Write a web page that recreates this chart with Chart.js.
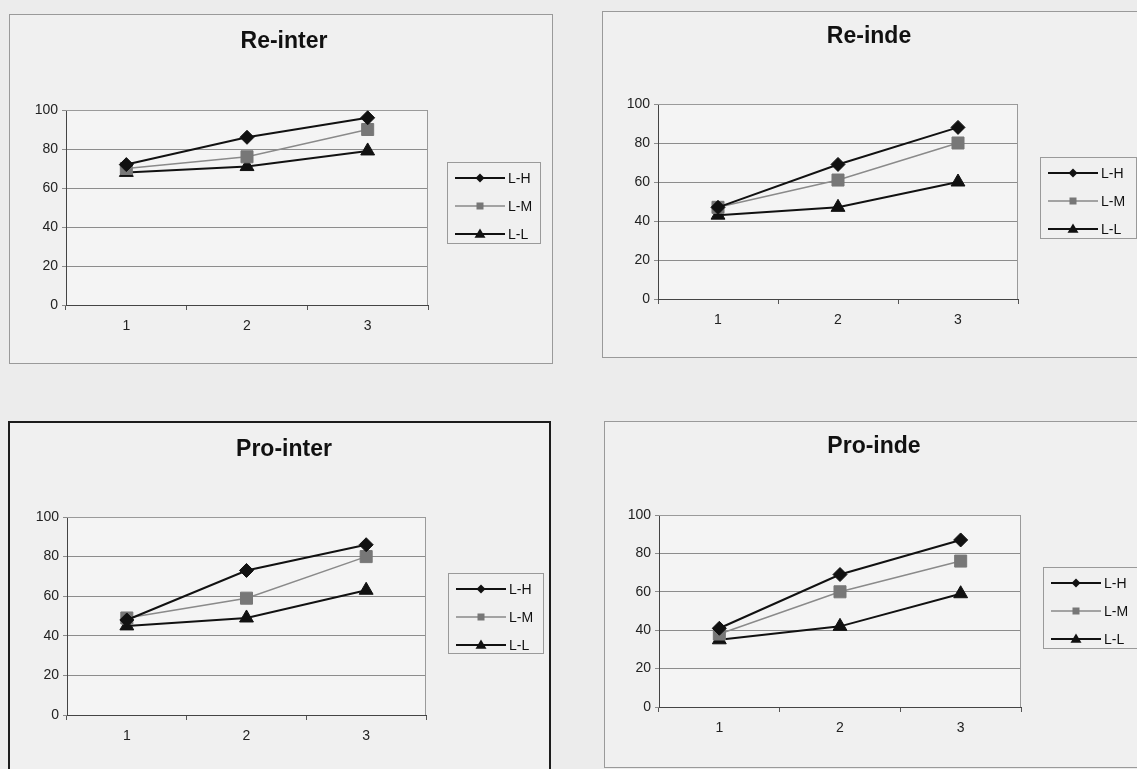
<!DOCTYPE html>
<html>
<head>
<meta charset="utf-8">
<script src="https://cdn.jsdelivr.net/npm/chart.js@4"></script>
<style>
  html, body { margin: 0; padding: 0; }
  body {
    width: 1137px; height: 769px; overflow: hidden; position: relative;
    background: #ececec; font-family: "Liberation Sans", Arial, sans-serif;
  }
  .panel { position: absolute; background: #f0f0f0; outline: 1px solid #9a9a9a; }
  .panel.dark { outline: 2px solid #1c1c1c; }
  canvas { display: block; }
</style>
</head>
<body>
<div class="panel" id="p0"><canvas id="c0"></canvas></div>
<div class="panel" id="p1"><canvas id="c1"></canvas></div>
<div class="panel dark" id="p2"><canvas id="c2"></canvas></div>
<div class="panel" id="p3"><canvas id="c3"></canvas></div>
<script>
const categories = ["1", "2", "3"];
const seriesNames = ["L-H", "L-M", "L-L"];
const yTickValues = [0, 20, 40, 60, 80, 100];
const chartTitles = ["Re-inter", "Re-inde", "Pro-inter", "Pro-inde"];

const reInterLH = [72, 86, 96];
const reInterLM = [70, 76, 90];
const reInterLL = [68, 71, 79];

const reIndeLH = [47, 69, 88];
const reIndeLM = [47, 61, 80];
const reIndeLL = [43, 47, 60];

const proInterLH = [48, 73, 86];
const proInterLM = [49, 59, 80];
const proInterLL = [45, 49, 63];

const proIndeLH = [41, 69, 87];
const proIndeLM = [38, 60, 76];
const proIndeLL = [35, 42, 59];

// line / marker look of each series
const seriesStyles = [
  { line: "#111111", fill: "#111111", width: 2, point: "rectRot", radius: 7, legendSize: 4.5 },
  { line: "#8a8a8a", fill: "#777777", width: 1.5, point: "rect", radius: 8.5, legendSize: 3.5 },
  { line: "#111111", fill: "#111111", width: 2, point: "triangle", radius: 8, legendSize: 5.5 },
];

// page geometry: box = [x, y, w, h], plot = [left, top, right, bottom], legend = [x, y, w, h], title = [cx, cy]
const panels = [
  { box: [10, 15, 542, 348], plot: [66, 110, 428, 305], legend: [447, 162, 93, 81], title: [284, 42],
    series: [reInterLH, reInterLM, reInterLL] },
  { box: [603, 12, 545, 345], plot: [658, 104, 1018, 299], legend: [1040, 157, 96, 81], title: [869, 37],
    series: [reIndeLH, reIndeLM, reIndeLL] },
  { box: [10, 423, 539, 370], plot: [67, 517, 426, 715], legend: [448, 573, 95, 80], title: [284, 450],
    series: [proInterLH, proInterLM, proInterLL] },
  { box: [605, 422, 545, 345], plot: [659, 515, 1021, 707], legend: [1043, 567, 96, 81], title: [874, 447],
    series: [proIndeLH, proIndeLM, proIndeLL] },
];

const Y_AXIS_W = 40;
const X_AXIS_H = 30;

function markerPath(ctx, kind, x, y, s) {
  ctx.beginPath();
  if (kind === "rectRot") {
    ctx.moveTo(x, y - s); ctx.lineTo(x + s, y); ctx.lineTo(x, y + s); ctx.lineTo(x - s, y);
  } else if (kind === "rect") {
    ctx.rect(x - s, y - s, 2 * s, 2 * s);
  } else {
    ctx.moveTo(x, y - s); ctx.lineTo(x + s, y + s * 0.7); ctx.lineTo(x - s, y + s * 0.7);
  }
  ctx.closePath();
}

const excelFrame = {
  id: "excelFrame",
  beforeDraw(chart) {
    const { ctx, chartArea: a } = chart;
    ctx.save();
    ctx.fillStyle = "#f4f4f4";
    ctx.fillRect(a.left, a.top, a.right - a.left, a.bottom - a.top);
    ctx.restore();
  },
  beforeDatasetsDraw(chart) {
    const { ctx, chartArea: a } = chart;
    ctx.save();
    ctx.strokeStyle = "#9a9a9a";
    ctx.lineWidth = 1;
    ctx.beginPath();
    ctx.moveTo(a.left, a.top + 0.5); ctx.lineTo(a.right - 0.5, a.top + 0.5); ctx.lineTo(a.right - 0.5, a.bottom);
    ctx.stroke();
    ctx.restore();
  },
  afterDraw(chart, args, opts) {
    const { ctx } = chart;
    const p = opts.panel;
    const bx = p.box[0], by = p.box[1];
    ctx.save();
    // title
    ctx.fillStyle = "#111";
    ctx.font = "bold 23px 'Liberation Sans', Arial, sans-serif";
    ctx.textAlign = "center";
    ctx.textBaseline = "middle";
    ctx.fillText(opts.title, p.title[0] - bx, p.title[1] - by);
    // legend box
    const lx = p.legend[0] - bx, ly = p.legend[1] - by;
    ctx.strokeStyle = "#9a9a9a";
    ctx.lineWidth = 1;
    ctx.strokeRect(lx + 0.5, ly + 0.5, p.legend[2], p.legend[3]);
    ctx.font = "14px 'Liberation Sans', Arial, sans-serif";
    ctx.textAlign = "left";
    chart.data.datasets.forEach((ds, i) => {
      const st = seriesStyles[i];
      const y = ly + 16 + 28 * i;
      ctx.strokeStyle = st.line;
      ctx.lineWidth = st.width;
      ctx.beginPath();
      ctx.moveTo(lx + 8, y); ctx.lineTo(lx + 58, y);
      ctx.stroke();
      ctx.fillStyle = st.fill;
      markerPath(ctx, st.point, lx + 33, y, st.legendSize);
      ctx.fill();
      ctx.fillStyle = "#111";
      ctx.fillText(ds.label, lx + 61, y + 1);
    });
    ctx.restore();
  },
};

panels.forEach((p, k) => {
  const div = document.getElementById("p" + k);
  div.style.left = p.box[0] + "px";
  div.style.top = p.box[1] + "px";
  div.style.width = p.box[2] + "px";
  div.style.height = p.box[3] + "px";
  const canvas = document.getElementById("c" + k);
  canvas.width = p.box[2];
  canvas.height = p.box[3];

  new Chart(canvas.getContext("2d"), {
    type: "line",
    data: {
      labels: categories,
      datasets: p.series.map((values, i) => ({
        label: seriesNames[i],
        data: values,
        borderColor: seriesStyles[i].line,
        borderWidth: seriesStyles[i].width,
        backgroundColor: seriesStyles[i].fill,
        pointBackgroundColor: seriesStyles[i].fill,
        pointBorderColor: seriesStyles[i].fill,
        pointBorderWidth: 1,
        pointStyle: seriesStyles[i].point,
        pointRadius: seriesStyles[i].radius,
        tension: 0,
        fill: false,
      })),
    },
    options: {
      responsive: false,
      animation: false,
      devicePixelRatio: 1,
      layout: {
        padding: {
          left: p.plot[0] - p.box[0] - Y_AXIS_W,
          top: p.plot[1] - p.box[1],
          right: p.box[0] + p.box[2] - p.plot[2],
          bottom: p.box[1] + p.box[3] - p.plot[3] - X_AXIS_H,
        },
      },
      plugins: {
        legend: { display: false },
        title: { display: false },
        tooltip: { enabled: false },
        excelFrame: { panel: p, title: chartTitles[k] },
      },
      scales: {
        x: {
          offset: true,
          afterFit: (s) => { s.height = X_AXIS_H; },
          grid: { display: true, drawOnChartArea: false, offset: true, tickLength: 5, color: "#555" },
          border: { display: true, color: "#444", width: 1 },
          ticks: { color: "#222", padding: 8, font: { family: "'Liberation Sans', Arial", size: 14 } },
        },
        y: {
          min: 0,
          max: 100,
          afterFit: (s) => { s.width = Y_AXIS_W; },
          afterBuildTicks: (s) => { s.ticks = yTickValues.map((v) => ({ value: v })); },
          grid: { color: "#8c8c8c", lineWidth: 1, tickLength: 4 },
          border: { display: true, color: "#444", width: 1 },
          ticks: { color: "#222", padding: 4, font: { family: "'Liberation Sans', Arial", size: 14 } },
        },
      },
    },
    plugins: [excelFrame],
  });
});
</script>
</body>
</html>
